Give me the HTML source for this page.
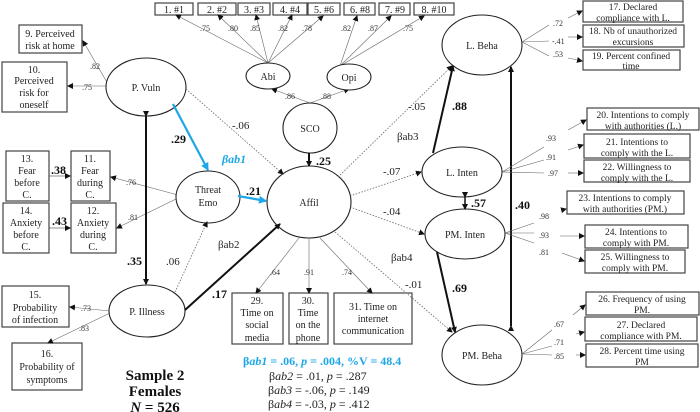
<!DOCTYPE html>
<html><head><meta charset="utf-8"><style>
html,body{margin:0;padding:0;background:#fff}
svg{display:block;font-family:"Liberation Serif",serif}
.b{fill:#fff;stroke:#444;stroke-width:1.2}
.e{fill:#fff;stroke:#222;stroke-width:1.1}
.t{font-size:10px;fill:#222;text-anchor:middle}
.r{font-size:9.5px}
.s{font-size:8px;fill:#333}
.l{stroke:#666;stroke-width:0.6;fill:none}
.d{stroke:#666;stroke-width:0.8;stroke-dasharray:1.5,1.5;fill:none}
.k{stroke:#111;stroke-width:2;fill:none}
.c{stroke:#1ea7e8;stroke-width:2.2;fill:none}
.n{font-size:11px;fill:#222}
.bn{font-size:12px;font-weight:bold;fill:#111}
</style></head><body>
<svg width="700" height="412" viewBox="0 0 700 412" xmlns="http://www.w3.org/2000/svg">
<defs>
<marker id="a" markerWidth="6" markerHeight="6" refX="5" refY="3" orient="auto" markerUnits="userSpaceOnUse"><path d="M0,0L6,3L0,6z" fill="#111"/></marker>
<marker id="ab" markerWidth="8" markerHeight="8" refX="7" refY="4" orient="auto" markerUnits="userSpaceOnUse"><path d="M0,0L8,4L0,8z" fill="#1ea7e8"/></marker>
<marker id="as" markerWidth="6" markerHeight="6" refX="1" refY="3" orient="auto-start-reverse" markerUnits="userSpaceOnUse"><path d="M6,0L0,3L6,6z" fill="#111"/></marker>
</defs>

<!-- top boxes -->
<g class="t">
<rect class="b" x="155" y="3" width="38" height="12"/><text x="174" y="13">1. #1</text>
<rect class="b" x="198" y="3" width="38" height="12"/><text x="217" y="13">2. #2</text>
<rect class="b" x="238" y="3" width="32" height="12"/><text x="254" y="13">3. #3</text>
<rect class="b" x="273" y="3" width="34" height="12"/><text x="290" y="13">4. #4</text>
<rect class="b" x="308" y="3" width="32" height="12"/><text x="324" y="13">5. #6</text>
<rect class="b" x="344" y="3" width="31" height="12"/><text x="360" y="13">6. #8</text>
<rect class="b" x="379" y="3" width="31" height="12"/><text x="395" y="13">7. #9</text>
<rect class="b" x="414" y="3" width="40" height="12"/><text x="434" y="13">8. #10</text>
</g>
<g class="l">
<line x1="268" y1="63" x2="176" y2="15" marker-end="url(#a)"/>
<line x1="268" y1="63" x2="218" y2="15" marker-end="url(#a)"/>
<line x1="268" y1="63" x2="256" y2="15" marker-end="url(#a)"/>
<line x1="268" y1="63" x2="292" y2="15" marker-end="url(#a)"/>
<line x1="268" y1="63" x2="323" y2="16" marker-end="url(#a)"/>
<line x1="340" y1="66" x2="357" y2="16" marker-end="url(#a)"/>
<line x1="340" y1="66" x2="391" y2="16" marker-end="url(#a)"/>
<line x1="340" y1="66" x2="424" y2="16" marker-end="url(#a)"/>
<line x1="310" y1="103" x2="272" y2="89" marker-end="url(#a)"/>
<line x1="310" y1="103" x2="349" y2="89" marker-end="url(#a)"/>
</g>
<g class="s">
<text x="200" y="31">.75</text><text x="228" y="31">.80</text><text x="250" y="31">.85</text><text x="278" y="31">.82</text><text x="302" y="31">.78</text>
<text x="341" y="31">.82</text><text x="368" y="31">.87</text><text x="403" y="31">.75</text>
<text x="285" y="99">.86</text><text x="321" y="99">.88</text>
</g>
<ellipse class="e" cx="268" cy="76" rx="22" ry="13"/><text class="t" x="268" y="80">Abi</text>
<ellipse class="e" cx="349" cy="77" rx="22" ry="13"/><text class="t" x="349" y="81">Opi</text>
<ellipse class="e" cx="310" cy="128" rx="27" ry="25"/><text class="t" x="310" y="132">SCO</text>
<line class="k" x1="309" y1="153" x2="309" y2="166" marker-end="url(#a)"/>
<text class="bn" x="316" y="165">.25</text>

<!-- left boxes -->
<g class="t">
<rect class="b" x="19" y="25" width="63" height="28"/><text x="50" y="37">9. Perceived</text><text x="50" y="49">risk at home</text>
<rect class="b" x="2" y="62" width="65" height="50"/><text x="34" y="73">10.</text><text x="34" y="84">Perceived</text><text x="34" y="96">risk for</text><text x="34" y="108">oneself</text>
<rect class="b" x="6" y="151" width="43" height="50"/><text x="27" y="162">13.</text><text x="27" y="174">Fear</text><text x="27" y="186">before</text><text x="27" y="198">C.</text>
<rect class="b" x="71" y="151" width="39" height="50"/><text x="90" y="162">11.</text><text x="90" y="174">Fear</text><text x="90" y="186">during</text><text x="90" y="198">C.</text>
<rect class="b" x="3" y="203" width="46" height="50"/><text x="26" y="214">14.</text><text x="26" y="226">Anxiety</text><text x="26" y="238">before</text><text x="26" y="250">C.</text>
<rect class="b" x="71" y="203" width="45" height="50"/><text x="93" y="214">12.</text><text x="93" y="226">Anxiety</text><text x="93" y="238">during</text><text x="93" y="250">C.</text>
<rect class="b" x="2" y="286" width="67" height="41"/><text x="35" y="298">15.</text><text x="35" y="311">Probability</text><text x="35" y="323">of infection</text>
<rect class="b" x="12" y="343" width="70" height="47"/><text x="47" y="357">16.</text><text x="47" y="370">Probability of</text><text x="47" y="383">symptoms</text>
</g>
<g class="l">
<line x1="108" y1="84" x2="83" y2="41" marker-end="url(#a)"/>
<line x1="108" y1="86" x2="68" y2="86" marker-end="url(#a)"/>
<line x1="178" y1="195" x2="111" y2="177" marker-end="url(#a)"/>
<line x1="178" y1="198" x2="117" y2="228" marker-end="url(#a)"/>
<line x1="110" y1="311" x2="70" y2="307" marker-end="url(#a)"/>
<line x1="110" y1="313" x2="48" y2="343" marker-end="url(#a)"/>
<line x1="49" y1="176" x2="70" y2="176" marker-end="url(#a)" style="stroke:#222"/>
<line x1="49" y1="228" x2="70" y2="228" marker-end="url(#a)" style="stroke:#222"/>
</g>
<g class="s">
<text x="90" y="69">.82</text><text x="82" y="90">.75</text><text x="126" y="185">.76</text><text x="128" y="220">.81</text>
<text x="81" y="311">.73</text><text x="79" y="331">.83</text>
</g>
<text class="bn" x="51" y="174">.38</text><text class="bn" x="52" y="225">.43</text>

<!-- latent ellipses left -->
<ellipse class="e" cx="146" cy="87" rx="40" ry="29"/><text class="t" x="146" y="91">P. Vuln</text>
<ellipse class="e" cx="208" cy="197" rx="32" ry="26"/><text class="t" x="208" y="193">Threat</text><text class="t" x="208" y="206">Emo</text>
<ellipse class="e" cx="147" cy="311" rx="38" ry="26"/><text class="t" x="147" y="315">P. Illness</text>
<ellipse class="e" cx="309" cy="202" rx="42" ry="36"/><text class="t" x="309" y="206">Affil</text>

<line class="k" x1="146" y1="116" x2="146" y2="284" marker-start="url(#as)" marker-end="url(#a)"/>
<text class="bn" x="127" y="265">.35</text>
<line class="c" x1="173" y1="104" x2="208" y2="170" marker-end="url(#ab)"/>
<text class="bn" x="171" y="143">.29</text>
<text x="222" y="163" style="font-size:12px;font-weight:bold;font-style:italic;fill:#1ea7e8">βab1</text>
<line class="c" x1="238" y1="196" x2="266" y2="201" marker-end="url(#ab)"/>
<text class="bn" x="246" y="195">.21</text>
<line class="d" x1="186" y1="89" x2="283" y2="174" marker-end="url(#a)"/>
<text class="n" x="232" y="129">-.06</text>
<line class="d" x1="175" y1="292" x2="207" y2="222" marker-end="url(#a)"/>
<text class="n" x="166" y="265">.06</text>
<line class="k" x1="185" y1="310" x2="280" y2="224" marker-end="url(#a)"/>
<text class="n" x="218" y="248">βab2</text>
<text class="bn" x="212" y="298">.17</text>

<!-- bottom boxes -->
<g class="t">
<rect class="b" x="232" y="293" width="51" height="51"/><text x="257" y="304">29.</text><text x="257" y="316">Time on</text><text x="257" y="328">social</text><text x="257" y="341">media</text>
<rect class="b" x="289" y="293" width="39" height="51"/><text x="308" y="304">30.</text><text x="308" y="316">Time</text><text x="308" y="328">on the</text><text x="308" y="341">phone</text>
<rect class="b" x="334" y="293" width="78" height="51"/><text x="373" y="310">31. Time on</text><text x="373" y="322">internet</text><text x="373" y="334">communication</text>
</g>
<g class="l">
<line x1="299" y1="238" x2="256" y2="293" marker-end="url(#a)"/>
<line x1="309" y1="238" x2="309" y2="293" marker-end="url(#a)"/>
<line x1="320" y1="238" x2="372" y2="293" marker-end="url(#a)"/>
</g>
<g class="s"><text x="270" y="275">.64</text><text x="304" y="275">.91</text><text x="342" y="275">.74</text></g>

<!-- right ellipses -->
<ellipse class="e" cx="482" cy="45" rx="40" ry="30"/><text class="t" x="482" y="49">L. Beha</text>
<ellipse class="e" cx="462" cy="172" rx="40" ry="25"/><text class="t" x="462" y="176">L. Inten</text>
<ellipse class="e" cx="465" cy="234" rx="40" ry="25"/><text class="t" x="465" y="238">PM. Inten</text>
<ellipse class="e" cx="482" cy="355" rx="40" ry="30"/><text class="t" x="482" y="359">PM. Beha</text>

<line class="d" x1="338" y1="177" x2="452" y2="66" marker-end="url(#a)"/>
<text class="n" x="408" y="110">-.05</text>
<line class="d" x1="350" y1="196" x2="421" y2="172" marker-end="url(#a)"/>
<text class="n" x="383" y="175">-.07</text>
<line class="d" x1="350" y1="207" x2="424" y2="234" marker-end="url(#a)"/>
<text class="n" x="383" y="215">-.04</text>
<line class="d" x1="335" y1="232" x2="452" y2="332" marker-end="url(#a)"/>
<text class="n" x="405" y="288">-.01</text>
<text class="n" x="397" y="140">βab3</text>
<text class="n" x="391" y="261">βab4</text>
<line class="k" x1="433" y1="153" x2="453" y2="66" marker-end="url(#a)"/>
<text class="bn" x="452" y="110">.88</text>
<line class="k" x1="437" y1="252" x2="455" y2="332" marker-end="url(#a)"/>
<text class="bn" x="452" y="292">.69</text>
<line class="k" x1="465" y1="197" x2="465" y2="209" marker-start="url(#as)" marker-end="url(#a)" style="stroke-width:1.5"/>
<text class="bn" x="471" y="207">.57</text>
<line class="k" x1="511" y1="326" x2="511" y2="67" marker-start="url(#as)" marker-end="url(#a)"/>
<text class="bn" x="515" y="209">.40</text>

<!-- right boxes -->
<g class="t r">
<rect class="b" x="583" y="1" width="100" height="21"/><text x="633" y="10">17. Declared</text><text x="633" y="21">compliance with L.</text>
<rect class="b" x="583" y="25" width="101" height="22"/><text x="633" y="34">18. Nb of unauthorized</text><text x="633" y="45">excursions</text>
<rect class="b" x="583" y="50" width="97" height="20"/><text x="631" y="59">19. Percent confined</text><text x="631" y="69">time</text>
<rect class="b" x="587" y="108" width="112" height="22"/><text x="643" y="118">20. Intentions to comply</text><text x="643" y="129">with authorities (L.)</text>
<rect class="b" x="584" y="134" width="106" height="24"/><text x="637" y="145">21. Intentions to</text><text x="637" y="156">comply with the L.</text>
<rect class="b" x="584" y="160" width="106" height="22"/><text x="637" y="170">22. Willingness to</text><text x="637" y="181">comply with the L.</text>
<rect class="b" x="567" y="191" width="117" height="23"/><text x="625" y="201">23. Intentions to comply</text><text x="625" y="212">with authorities (PM.)</text>
<rect class="b" x="585" y="225" width="103" height="23"/><text x="636" y="235">24. Intentions to</text><text x="636" y="246">comply with PM.</text>
<rect class="b" x="585" y="250" width="100" height="23"/><text x="635" y="260">25. Willingness to</text><text x="635" y="271">comply with PM.</text>
<rect class="b" x="586" y="292" width="113" height="23"/><text x="642" y="302">26. Frequency of using</text><text x="642" y="313">PM.</text>
<rect class="b" x="585" y="317" width="112" height="24"/><text x="641" y="328">27. Declared</text><text x="641" y="339">compliance with PM.</text>
<rect class="b" x="586" y="344" width="112" height="23"/><text x="642" y="354">28. Percent time using</text><text x="642" y="365">PM</text>
</g>
<g class="l">
<line x1="522" y1="42" x2="549" y2="25"/><line x1="522" y1="42" x2="549" y2="41"/><line x1="522" y1="42" x2="549" y2="56"/>
<line x1="568" y1="18" x2="582" y2="11" marker-end="url(#a)"/><line x1="568" y1="37" x2="582" y2="37" marker-end="url(#a)"/><line x1="568" y1="58" x2="582" y2="61" marker-end="url(#a)"/>
<line x1="502" y1="172" x2="544" y2="147"/><line x1="502" y1="172" x2="544" y2="160"/><line x1="502" y1="172" x2="544" y2="173"/>
<line x1="568" y1="130" x2="586" y2="120" marker-end="url(#a)"/><line x1="568" y1="150" x2="583" y2="145" marker-end="url(#a)"/><line x1="568" y1="173" x2="583" y2="173" marker-end="url(#a)"/>
<line x1="505" y1="233" x2="534" y2="223"/><line x1="505" y1="233" x2="534" y2="233"/><line x1="505" y1="233" x2="534" y2="243"/>
<line x1="562" y1="210" x2="566" y2="209" marker-end="url(#a)"/><line x1="560" y1="236" x2="584" y2="236" marker-end="url(#a)"/><line x1="562" y1="253" x2="584" y2="261" marker-end="url(#a)"/>
<line x1="522" y1="354" x2="552" y2="330"/><line x1="522" y1="354" x2="552" y2="346"/><line x1="522" y1="354" x2="552" y2="355"/>
<line x1="573" y1="315" x2="585" y2="305" marker-end="url(#a)"/><line x1="576" y1="334" x2="584" y2="332" marker-end="url(#a)"/><line x1="576" y1="355" x2="585" y2="355" marker-end="url(#a)"/>
</g>
<g class="s">
<text x="553" y="26">.72</text><text x="552" y="44">-.41</text><text x="553" y="57">.53</text>
<text x="546" y="141">.93</text><text x="546" y="160">.91</text><text x="548" y="176">.97</text>
<text x="539" y="219">.98</text><text x="539" y="238">.93</text><text x="539" y="255">.81</text>
<text x="554" y="327">.67</text><text x="554" y="345">.71</text><text x="554" y="359">.85</text>
</g>

<!-- stats -->
<text x="243" y="365" style="font-size:12px;font-weight:bold;fill:#1ea7e8">β<tspan font-style="italic">ab1</tspan> = .06, <tspan font-style="italic">p</tspan> = .004, %V = 48.4</text>
<g style="font-size:12px;fill:#222">
<text x="269" y="380">β<tspan font-style="italic">ab2</tspan> = .01, <tspan font-style="italic">p</tspan> = .287</text>
<text x="268" y="394">β<tspan font-style="italic">ab3</tspan> = -.06, <tspan font-style="italic">p</tspan> = .149</text>
<text x="268" y="408">β<tspan font-style="italic">ab4</tspan> = -.03, <tspan font-style="italic">p</tspan> = .412</text>
</g>
<g style="font-size:15px;font-weight:bold;fill:#111;text-anchor:middle">
<text x="155" y="380">Sample 2</text>
<text x="155" y="396">Females</text>
<text x="155" y="412"><tspan font-style="italic">N</tspan> = 526</text>
</g>
</svg>
</body></html>
